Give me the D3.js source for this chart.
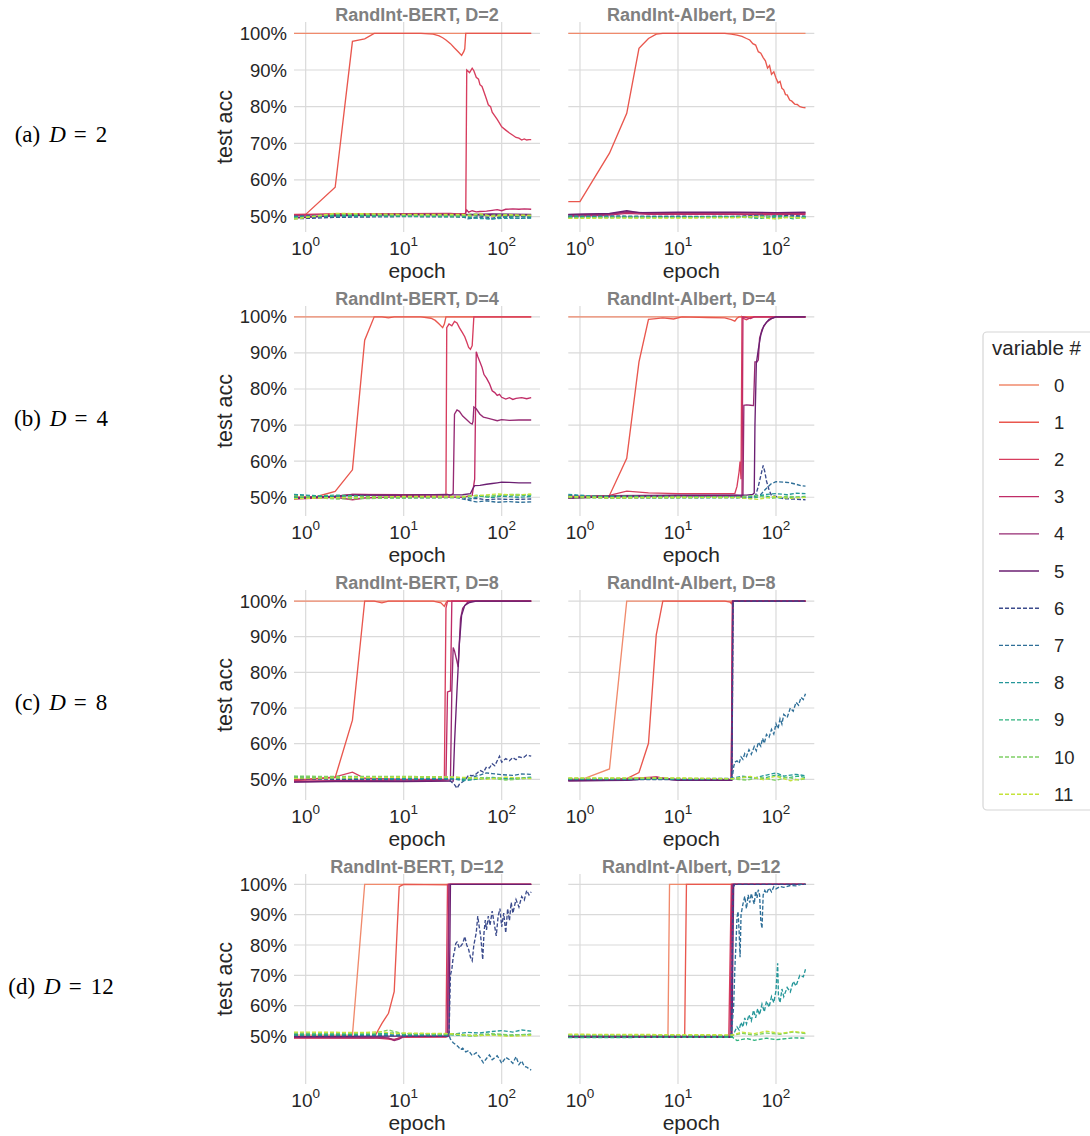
<!DOCTYPE html>
<html><head><meta charset="utf-8">
<script src="https://cdn.jsdelivr.net/npm/d3@7"></script>
<style>body{margin:0;background:#fff}svg{display:block}</style>
</head><body>
<script>
// ---------- data ----------
const variables = [0,1,2,3,4,5,6,7,8,9,10,11];
const colors = ["#f08a6c","#e9574e","#d73d5e","#c02c67","#962a73","#6b1f72",
                "#3b4b8c","#2f6f98","#25979a","#2db27d","#7fd065","#c5e33a"];
const dashedFrom = 6;
const models = ["RandInt-BERT","RandInt-Albert"];
const depths = [2,4,8,12];
const rowLetters = ["(a)","(b)","(c)","(d)"];
const yTicks = [50,60,70,80,90,100];
const xTicks = [1,10,100];
const xLimits = [0.76,246];
const yLimits = [[45.8,103.1],[44.8,103.0],[44.2,103.1],[34.2,103.4]];

const bertD2 = [
 [[0.76,100],[200,100]],
 [[0.76,50.6],[1,50.6],[2,58],[3,97.8],[4,98.5],[5,100],[10,100],[15,100],[20,99.8],[23,99.3],[25,98.8],[27,98.2],[30,97.2],[33,96],[36,95],[39,94],[41,95],[42,95.8],[43,100],[200,100]],
 [[0.76,50.5],[2,50.8],[10,50.7],[30,50.8],[43,50.8],[44,90],[47,89.3],[50,90.5],[52,89.8],[55,88],[58,87.5],[60,86],[63,85.5],[66,84],[70,82],[73,80.5],[77,80],[80,78.5],[85,77.5],[90,76.5],[95,75.5],[100,74.5],[110,73.6],[120,72.8],[130,72.2],[140,71.6],[150,71.4],[160,70.9],[170,71.2],[180,70.9],[190,71],[200,71]],
 [[0.76,50.3],[2,50.6],[10,50.8],[30,50.9],[42,50.6],[44,51.8],[46,51.2],[50,51.6],[55,51.3],[60,51.4],[70,51.5],[80,51.7],[90,51.9],[100,51.6],[110,52],[130,52.1],[150,52],[170,52.1],[200,52]],
 [[0.76,49.8],[2,50.2],[3,50.5],[10,50.6],[40,50.5],[60,50.4],[100,50.3],[200,50.4]],
 [[0.76,49.6],[2,50.3],[10,50.5],[40,50.5],[80,50.7],[200,50.6]],
 [[0.76,49.4],[1,49.5],[2,49.8],[10,50],[40,49.9],[50,49.5],[60,50.2],[80,49.6],[120,50.1],[200,49.9]],
 [[0.76,50.1],[2,50.5],[10,50.3],[40,50],[45,49.4],[60,49.8],[80,49.3],[100,49.9],[150,49.5],[200,49.7]],
 [[0.76,49.9],[2,50],[10,50.2],[40,50.1],[50,49.6],[70,49.4],[100,49.5],[150,49.6],[200,49.6]],
 [[0.76,49.7],[2,50.4],[10,50.1],[40,50],[60,50.3],[90,50.1],[150,50.2],[200,50.1]],
 [[0.76,49.5],[2,50.7],[10,50.4],[40,50.3],[50,50.8],[70,50.2],[100,50.6],[150,50.3],[200,50.4]],
 [[0.76,49.3],[2,50.9],[10,50.6],[40,50.6],[48,50.2],[60,50.8],[80,50.1],[120,50.5],[200,50.3]]
];
const albertD2 = [
 [[0.76,100],[200,100]],
 [[0.76,54.1],[1,54.1],[2,67.3],[3,78.2],[4,95.9],[5,98.6],[6,99.8],[7,100],[30,100],[35,99.8],[40,99.5],[45,99.2],[50,98.6],[54,98.2],[58,97.2],[62,96.8],[66,95],[70,94.6],[74,93.4],[78,92.5],[82,90.5],[86,91.2],[90,88.8],[95,89.5],[100,87.8],[105,86.5],[110,86.9],[115,85],[120,84.6],[125,83.3],[130,83.2],[138,81.8],[145,81.5],[155,80.7],[165,80.6],[175,80],[186,79.8],[200,79.7]],
 [[0.76,50.3],[2,50.6],[3,51.2],[5,50.8],[20,50.8],[60,50.7],[100,50.9],[200,50.8]],
 [[0.76,50.1],[2,50.4],[3,50.9],[5,50.6],[30,50.6],[80,50.5],[200,50.6]],
 [[0.76,50.5],[2,50.7],[3,51.3],[5,51],[30,51],[80,51.1],[200,51]],
 [[0.76,50.6],[2,50.9],[3,51.6],[4,51.1],[10,51.2],[40,51.2],[100,51.1],[200,51.2]],
 [[0.76,50],[2,49.9],[10,50.1],[40,50],[60,50.3],[90,49.9],[140,50.4],[200,50.1]],
 [[0.76,49.8],[2,50.2],[10,50],[40,49.9],[70,50.4],[100,49.6],[150,50.1],[200,49.8]],
 [[0.76,50.2],[2,50],[10,49.9],[40,50.1],[60,49.7],[100,50.3],[160,49.7],[200,50]],
 [[0.76,49.9],[2,49.7],[10,49.8],[40,49.9],[70,49.5],[110,50.2],[150,49.4],[200,49.9]],
 [[0.76,49.6],[2,49.8],[10,49.7],[40,49.8],[80,50.1],[100,49.3],[130,49.9],[200,49.6]],
 [[0.76,49.5],[2,49.6],[10,49.6],[40,49.7],[60,50],[90,49.4],[140,49.8],[200,49.5]]
];
const bertD4 = [
 [[0.76,100],[200,100]],
 [[0.76,50],[1.3,50.2],[2,51.6],[3,57.6],[4,93.5],[5,100],[6,100],[7,99.7],[8,100],[15,100],[19,99.6],[21,99],[23,98],[25,97],[26,98],[27,100],[200,100]],
 [[0.76,49.9],[2,50.2],[3,50.8],[10,50.7],[26,50.7],[27,50.6],[27.5,97],[29,98],[31,97.5],[33,98.7],[35,98.3],[37,97],[40,95.5],[42,94.5],[44,93],[46,91.5],[48,91],[50,92],[52,100],[200,100]],
 [[0.76,49.5],[2,50],[3,49.3],[4,49.8],[10,50.2],[40,50],[50,50.5],[53,55],[55,90.3],[57,89],[60,87.5],[63,86],[66,84],[70,83],[75,81.5],[80,79.5],[85,79],[90,78.2],[95,78.5],[100,77.7],[110,77.2],[120,77.6],[130,77.1],[140,77.4],[160,77.6],[180,77.3],[200,77.6]],
 [[0.76,49.8],[2,50.3],[3,50.8],[10,50.6],[28,50.8],[30,50.5],[32,51],[33,73],[35,74.2],[37,73.8],[40,72.5],[44,71.5],[48,70.5],[50,70.3],[51,71],[52,75],[55,74.5],[60,73],[65,72.2],[70,72],[80,71.6],[90,71.2],[100,71.5],[120,71.3],[150,71.4],[200,71.4]],
 [[0.76,49.7],[2,50.2],[3,50.5],[10,50.6],[40,50.7],[48,51],[51,52.5],[53,53.2],[60,53.3],[70,53.6],[80,53.8],[90,54],[100,54.2],[120,54.1],[150,54],[200,54]],
 [[0.76,50.2],[2,49.8],[10,50],[40,50],[45,49.4],[55,49.7],[70,49.3],[90,49.5],[120,49.4],[200,49.5]],
 [[0.76,50.5],[2,50],[10,49.8],[35,49.9],[45,49.2],[55,48.7],[70,49],[90,48.6],[120,48.8],[150,48.6],[200,48.7]],
 [[0.76,50.8],[2,50.1],[10,50.1],[40,50.2],[50,49.6],[60,50.4],[80,49.9],[100,50.3],[150,50],[200,50.2]],
 [[0.76,49.9],[2,50.6],[10,49.9],[40,50.1],[50,50.5],[70,50.1],[100,50.6],[200,50.5]],
 [[0.76,50.4],[2,49.5],[10,49.8],[40,49.9],[55,50.6],[80,50.3],[120,50.8],[200,50.7]],
 [[0.76,49.6],[2,49.9],[10,50.2],[40,50.2],[60,50.5],[90,50.9],[140,50.6],[200,50.9]]
];
const albertD4 = [
 [[0.76,100],[200,100]],
 [[0.76,50],[1,50],[2,50.5],[3,60.8],[4,87.5],[5,99.3],[6,99.5],[7,99.7],[9,99.4],[11,100],[20,99.8],[30,99.7],[35,99.2],[38,98.8],[40,99.6],[42,100],[200,100]],
 [[0.76,50.2],[2,50.5],[3,51.7],[5,51.2],[10,51],[30,51],[38,51],[40,53],[42,57],[43,59.9],[44,55],[45,100],[47,99.5],[50,99.2],[55,99.8],[60,100],[200,100]],
 [[0.76,49.8],[2,50.1],[10,50.3],[44,50.3],[45,50],[46,100],[50,99.8],[55,99.5],[60,100],[200,100]],
 [[0.76,49.9],[2,50.4],[10,50.6],[40,50.5],[46,50.3],[47,75.5],[50,75.6],[55,75.5],[59,75.4],[61,87.5],[64,87.5],[66,88],[68,94],[72,96.5],[80,98.5],[90,99.5],[100,100],[200,100]],
 [[0.76,49.7],[2,50.2],[10,50.5],[40,50.6],[50,50.6],[58,50.8],[60,51.2],[61,70],[63,87],[66,91],[70,95],[75,97.5],[85,99.3],[100,100],[200,100]],
 [[0.76,50.3],[2,49.8],[10,49.9],[40,50],[55,49.8],[62,50.5],[66,53],[70,56],[74,58.8],[77,57],[80,54.5],[85,52],[90,50.5],[100,50.2],[120,49.6],[150,49.5],[200,49.3]],
 [[0.76,50.5],[2,50.1],[10,50],[40,50.2],[60,50.3],[70,50.8],[80,52.5],[90,53.8],[100,54.3],[120,54.2],[140,54],[160,53.6],[180,53.2],[200,53.1]],
 [[0.76,50.8],[2,50],[10,49.9],[40,49.8],[60,50.2],[80,50.8],[100,51],[130,50.7],[160,51.1],[200,51]],
 [[0.76,50.1],[2,50.3],[10,50.2],[40,50.1],[55,49.6],[75,50.4],[110,49.8],[200,50.2]],
 [[0.76,49.9],[2,49.7],[10,49.8],[40,50],[60,50.5],[90,49.7],[130,50.3],[200,49.9]],
 [[0.76,50.2],[2,49.9],[10,50],[40,49.9],[65,49.4],[95,50.2],[140,49.7],[200,50]]
];
const bertD8 = [
 [[0.76,100],[200,100]],
 [[0.76,50],[1,50],[2,50.5],[3,66.6],[4,100],[5,100],[6,99.5],[7,100],[20,100],[24,99.5],[26,98.5],[27,99.5],[28,100],[200,100]],
 [[0.76,49.6],[2,50.7],[3,52],[4,50.3],[10,50],[26,50],[27,98],[28,100],[200,100]],
 [[0.76,49.5],[2,49.6],[10,49.8],[27,49.9],[28,74.5],[30,74.8],[31,100],[200,100]],
 [[0.76,49.3],[2,49.5],[10,49.5],[30,49.8],[31,75],[32,87],[33,86],[35,83],[36,81.5],[38,95],[40,98],[45,99.7],[50,100],[200,100]],
 [[0.76,49.2],[2,49.4],[10,49.4],[32,49.5],[33,60],[35,75],[37,88],[39,96],[42,98.8],[47,99.6],[55,100],[200,100]],
 [[0.76,50.2],[2,50],[10,49.9],[28,50.1],[30,49.5],[33,48.5],[35,47.5],[37,48.6],[40,49.3],[43,50],[46,51.2],[50,51],[55,51.5],[60,52.5],[65,52],[70,53.5],[75,53.2],[80,54.4],[85,53.8],[90,55.2],[95,56.5],[100,54.8],[110,55.8],[120,55.2],[130,56.1],[140,55.5],[150,56.3],[165,56],[180,56.8],[200,56.5]],
 [[0.76,50.5],[2,50.2],[10,50],[30,50.1],[40,50],[50,50.6],[60,51.2],[70,51.8],[80,51.6],[100,51.3],[130,51.1],[160,51.5],[200,51.4]],
 [[0.76,50.8],[2,50.3],[10,50.2],[30,50.3],[40,49.6],[60,50.1],[80,50.5],[120,50.2],[200,50.6]],
 [[0.76,50.6],[2,50.5],[10,50.5],[30,50.5],[45,50],[70,50.4],[110,50.1],[200,50.4]],
 [[0.76,50.9],[2,50.8],[10,50.8],[30,50.7],[45,50.3],[70,50.5],[110,49.8],[200,50.3]],
 [[0.76,50.3],[2,50.4],[10,50.6],[30,50.6],[45,50.5],[70,50],[110,50.6],[200,50.2]]
];
const albertD8 = [
 [[0.76,50],[1.1,50.2],[2,52.9],[3,100],[200,100]],
 [[0.76,49.9],[2,49.9],[3,50.2],[4,51.9],[5,60.1],[6,90.5],[7,100],[30,100],[34,99.7],[35,99.3],[36,100],[200,100]],
 [[0.76,49.8],[2,49.8],[3,50.2],[6,50.7],[7,50.3],[10,50],[35,50],[36,100],[200,100]],
 [[0.76,49.7],[2,49.7],[4,50.1],[6,50.6],[8,50.2],[10,49.9],[35,49.9],[36,100],[200,100]],
 [[0.76,49.6],[3,49.8],[6,50.4],[10,49.8],[35,49.8],[36.2,100],[200,100]],
 [[0.76,49.6],[3,49.7],[6,50.3],[10,49.7],[35.5,49.7],[36.5,100],[200,100]],
 [[0.76,49.9],[10,49.9],[35.5,50],[36.5,99.5],[38,100],[200,100]],
 [[0.76,50],[10,50],[35,50.2],[36,51],[37,53.5],[38,54.8],[40,55.2],[42,54.5],[44,56.3],[46,55.6],[48,57.2],[50,56.4],[53,58.3],[56,57],[60,59.2],[63,58],[66,60.4],[70,59.3],[73,61.5],[76,60.1],[80,62.6],[85,61.8],[90,64],[95,62.7],[100,65.6],[105,64.2],[110,67],[115,65.5],[120,68.2],[130,67.3],[140,70],[150,69.1],[160,71.6],[170,70.8],[180,73],[190,72.4],[200,74]],
 [[0.76,50.2],[10,50.1],[36,50.3],[45,50.9],[60,50.4],[80,51.2],[100,51.8],[120,50.9],[160,51.4],[200,51]],
 [[0.76,50.1],[10,50.2],[36,50.2],[50,50.6],[70,50.1],[100,51.2],[130,50.4],[170,50.9],[200,50.5]],
 [[0.76,50.3],[10,50.3],[36,50.1],[50,49.8],[70,50.5],[100,49.7],[130,50.6],[170,49.8],[200,50.2]],
 [[0.76,50.4],[10,50.4],[36,50.2],[55,50.8],[75,49.9],[100,50.9],[140,49.6],[200,50.3]]
];
const bertD12 = [
 [[0.76,50.3],[3,50.3],[4,100],[200,100]],
 [[0.76,49.5],[5,49.5],[5.5,52],[6,54.2],[7,57.5],[8,64.6],[9,99.2],[10,100],[28,99.8],[29,100],[200,100]],
 [[0.76,49.3],[5,49.4],[7,49],[8,48.7],[9,49.4],[10,49.6],[27,49.7],[28,100],[200,100]],
 [[0.76,49.5],[6,49.6],[8,48.9],[10,49.8],[28,49.8],[29,100],[200,100]],
 [[0.76,49.6],[7,49.4],[8,48.5],[9,49],[10,49.9],[28,50],[29,100],[200,100]],
 [[0.76,49.8],[10,50],[29,50],[30,100],[200,100]],
 [[0.76,50.6],[10,50.2],[29,50.1],[30,70.1],[31,72],[32,76],[33,78],[34,80.5],[35,81],[37,79],[40,80.5],[42,82.8],[44,80],[46,78.5],[48,76],[50,74.8],[52,80],[55,84],[57,89.5],[59,86],[61,83],[63,78],[64,75.2],[66,84],[68,88.2],[70,85],[73,89.5],[76,86.5],[80,91.2],[84,87],[88,83],[92,89.5],[96,92],[100,86],[105,90.5],[110,84],[115,92],[120,88],[125,94],[130,90.5],[140,95],[150,92.5],[160,96],[170,94.8],[180,98],[190,96.5],[200,97.5]],
 [[0.76,50.2],[10,50.1],[29,50.2],[30,49],[32,47.8],[34,47.2],[36,46.5],[38,45.5],[40,46],[43,44.8],[46,45.2],[50,43.6],[55,44.5],[60,43],[65,41.2],[70,42.6],[75,43.8],[80,42.2],[90,43.5],[96,42.1],[100,41],[110,43],[120,42.2],[130,41],[140,43.2],[150,40.6],[160,41.8],[170,40],[180,39.8],[190,39.2],[200,38.8]],
 [[0.76,50.9],[10,50.6],[29,50.7],[35,50.8],[45,51.2],[60,51],[80,51.5],[100,51.8],[130,51.3],[160,52],[200,51.6]],
 [[0.76,50.4],[5,50.6],[8,51],[10,50.5],[30,50.4],[50,50],[80,50.5],[120,50.2],[200,50.6]],
 [[0.76,51],[5,50.9],[7,52],[8,51.5],[10,50.8],[30,50.6],[50,50.3],[80,50.8],[120,50.4],[200,50.5]],
 [[0.76,51.3],[4,51.2],[6,51.4],[8,50.8],[10,51],[30,50.8],[50,50.1],[80,50.3],[120,49.9],[200,50.2]]
];
const albertD12 = [
 [[0.76,50],[7.9,50],[8.2,100],[200,100]],
 [[0.76,49.9],[11.7,50],[12.2,100],[200,100]],
 [[0.76,49.8],[33,50],[35,100],[200,100]],
 [[0.76,49.7],[34,49.8],[35.5,100],[200,100]],
 [[0.76,49.8],[35,49.8],[36,100],[200,100]],
 [[0.76,49.6],[35.5,49.6],[37,100],[200,100]],
 [[0.76,50.1],[35,50],[36.5,99],[38,100],[200,100]],
 [[0.76,50.2],[35,50.1],[37,60],[38,72],[39,80],[40,89],[41,91],[42,85],[43,76],[44,90],[46,93.5],[48,96],[50,92],[52,96.5],[54,94],[56,97],[58,95],[60,93.5],[62,97.8],[64,95.5],[66,98.2],[68,96.5],[70,88],[72,85.5],[74,96.5],[77,98],[80,97],[85,98.8],[90,97.5],[95,99.2],[100,98.5],[110,99.3],[120,99],[140,99.6],[160,99.5],[180,100],[200,100]],
 [[0.76,50.3],[36,50.1],[38,51.5],[40,53],[42,52],[44,54.5],[46,53],[48,56],[50,54],[53,57],[56,55],[59,58.5],[62,56],[65,59],[68,57],[72,60.5],[76,58],[80,61.5],[85,59.5],[90,63],[95,61],[100,65],[104,74],[106,63],[110,61],[115,65.5],[120,63],[130,66],[140,64.5],[150,68],[160,66.5],[175,70],[190,69.5],[200,72]],
 [[0.76,49.5],[36,49.6],[40,48.5],[50,49.2],[60,48.6],[80,49.3],[100,48.8],[150,49.4],[200,49.3]],
 [[0.76,50.3],[36,50.2],[45,50.9],[60,50.3],[80,51],[110,50.6],[150,51.3],[200,50.8]],
 [[0.76,50.6],[36,50.4],[45,51.3],[60,50.8],[80,51.6],[110,50.9],[150,51.5],[200,51.1]]
];
const panelData = [[bertD2, albertD2],[bertD4, albertD4],[bertD8, albertD8],[bertD12, albertD12]];

// ---------- layout ----------
const W = 1090, H = 1136;
const colLeft = [294, 568.3], axW = 246;
const rowTop0 = 22, rowStep = 284, axH = 210;
const font = "'Liberation Sans', Arial, Helvetica, sans-serif";
const txt = "#262626";

const svg = d3.select("body").append("svg").attr("width", W).attr("height", H)
  .style("font-family", font);

for (let r = 0; r < 4; r++) {
  const top = rowTop0 + r * rowStep;
  // row label
  const rl = svg.append("text").attr("x", 61).attr("y", top + 120)
    .attr("text-anchor", "middle").style("font-family", "'Liberation Serif','Times New Roman',serif")
    .style("font-size", "23px").attr("fill", "#000");
  rl.append("tspan").text(rowLetters[r]);
  rl.append("tspan").attr("dx", 9).style("font-style", "italic").text("D");
  rl.append("tspan").attr("dx", 8).text("=");
  rl.append("tspan").attr("dx", 9).text(depths[r]);

  for (let c = 0; c < 2; c++) {
    const left = colLeft[c];
    const x = d3.scaleLog().domain(xLimits).range([left, left + axW]);
    const y = d3.scaleLinear().domain(yLimits[r]).range([top + axH, top]);
    const g = svg.append("g");

    // grid
    g.selectAll(".hg").data(yTicks).join("line")
      .attr("x1", left).attr("x2", left + axW)
      .attr("y1", d => y(d)).attr("y2", d => y(d))
      .attr("stroke", "#dadada").attr("stroke-width", 1.2);
    g.selectAll(".vg").data(xTicks).join("line")
      .attr("x1", d => x(d)).attr("x2", d => x(d))
      .attr("y1", top).attr("y2", top + axH)
      .attr("stroke", "#dadada").attr("stroke-width", 1.2);

    // lines
    const line = d3.line().x(d => x(d[0])).y(d => y(d[1]));
    const series = panelData[r][c];
    variables.forEach(v => {
      g.append("path").datum(series[v])
        .attr("d", line).attr("fill", "none")
        .attr("stroke", colors[v]).attr("stroke-width", 1.35)
        .attr("stroke-dasharray", v >= dashedFrom ? "4,2" : null);
    });

    // title
    svg.append("text").attr("x", left + axW / 2).attr("y", top - 1.5)
      .attr("text-anchor", "middle").attr("fill", "#808080")
      .style("font-weight", "bold").style("font-size", "18px")
      .text(`${models[c]}, D=${depths[r]}`);

    // x tick labels
    xTicks.forEach(t => {
      const tt = svg.append("text").attr("x", x(t)).attr("y", top + axH + 23)
        .attr("text-anchor", "middle").attr("fill", txt).style("font-size", "19px");
      tt.append("tspan").text("10");
      tt.append("tspan").attr("dy", -9).style("font-size", "13.5px").text(Math.round(Math.log10(t)));
    });
    svg.append("text").attr("x", left + axW / 2).attr("y", top + axH + 46)
      .attr("text-anchor", "middle").attr("fill", txt).style("font-size", "21px").text("epoch");

    if (c === 0) {
      yTicks.forEach(t => {
        svg.append("text").attr("x", left - 7).attr("y", y(t))
          .attr("text-anchor", "end").attr("dominant-baseline", "central")
          .attr("fill", txt).style("font-size", "18.5px").text(t + "%");
      });
      svg.append("text")
        .attr("transform", `translate(${left - 62},${top + axH / 2}) rotate(-90)`)
        .attr("text-anchor", "middle").attr("fill", txt).style("font-size", "21.5px").text("test acc");
    }
  }
}

// legend
const lg = svg.append("g");
lg.append("rect").attr("x", 983).attr("y", 332).attr("width", 130).attr("height", 478)
  .attr("rx", 4).attr("fill", "#fff").attr("stroke", "#d6d6d6").attr("stroke-width", 1.2);
lg.append("text").attr("x", 992).attr("y", 355).attr("fill", txt)
  .style("font-size", "20.5px").text("variable #");
variables.forEach((v, i) => {
  const yy = 385 + 37.2 * i;
  lg.append("line").attr("x1", 999).attr("x2", 1039).attr("y1", yy).attr("y2", yy)
    .attr("stroke", colors[v]).attr("stroke-width", 1.35)
    .attr("stroke-dasharray", v >= dashedFrom ? "4,2" : null);
  lg.append("text").attr("x", 1054).attr("y", yy).attr("dominant-baseline", "central")
    .attr("fill", txt).style("font-size", "18.5px").text(v);
});
</script>
</body></html>
